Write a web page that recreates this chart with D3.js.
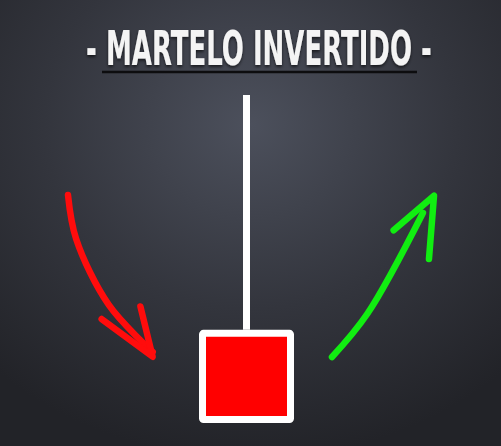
<!DOCTYPE html>
<html><head><meta charset="utf-8">
<script src="https://cdn.jsdelivr.net/npm/d3@7"></script>
<style>html,body{margin:0;padding:0;background:#2c2e33;overflow:hidden}</style>
</head><body>
<script>
// Data
const title = "- MARTELO INVERTIDO -";
const candle = [{high: 100, open: 0, close: 28.4, low: 0}]; // bearish inverted hammer (values in price units)
const downTrend = [[0, 100], [8, 72], [40, 30], [83, 0]];      // red arrow path (trend units)
const upTrend = [[0, 0], [35, 30], [90, 100]];                 // green arrow path (trend units)

const W = 501, H = 446;
const svg = d3.select("body").append("svg").attr("width", W).attr("height", H);
const defs = svg.append("defs");
const rg = defs.append("radialGradient").attr("id", "bg").attr("cx", "50%").attr("cy", "28%").attr("r", "75%");
rg.append("stop").attr("offset", "0%").attr("stop-color", "#4c505c");
rg.append("stop").attr("offset", "55%").attr("stop-color", "#33353d");
rg.append("stop").attr("offset", "100%").attr("stop-color", "#222328");
svg.append("rect").attr("width", W).attr("height", H).attr("fill", "url(#bg)");

const sh = defs.append("filter").attr("id", "ts").attr("x", "-10%").attr("y", "-30%").attr("width", "120%").attr("height", "160%");
sh.append("feDropShadow").attr("dx", 0).attr("dy", 2).attr("stdDeviation", 1.5).attr("flood-color", "#000").attr("flood-opacity", 0.6);

// Title
const tg = svg.append("g").attr("filter", "url(#ts)");
const tt = tg.append("text").attr("x", 0).attr("y", 0).attr("text-anchor", "middle")
  .attr("font-family", "'Liberation Sans Narrow','DejaVu Sans Condensed',sans-serif")
  .attr("font-weight", "bold").attr("font-size", 48).attr("fill", "#f4f4f4").text(title);
const natW = tt.node().getComputedTextLength();
tt.attr("transform", `translate(259,65) scale(${346 / natW},1)`);
svg.append("line").attr("x1", 102).attr("x2", 417).attr("y1", 72).attr("y2", 72)
  .attr("stroke", "#0d0d0f").attr("stroke-width", 2.5);

// Candle scales
const x = d3.scaleBand().domain([0]).range([199, 294]).padding(0);
const y = d3.scaleLinear().domain([0, 100]).range([423, 95]);
const c = candle[0];
const cx = x(0) + x.bandwidth() / 2;
svg.append("line").attr("x1", cx).attr("x2", cx).attr("y1", y(c.high)).attr("y2", y(c.close))
  .attr("stroke", "#ffffff").attr("stroke-width", 7);
svg.append("rect").attr("x", x(0) + 3.5).attr("y", y(c.close) + 3.5)
  .attr("width", x.bandwidth() - 7).attr("height", y(c.open) - y(c.close) - 7)
  .attr("fill", "#ff0000").attr("stroke", "#ffffff").attr("stroke-width", 7).attr("rx", 1);

// Arrows
function drawArrow(pts, sx, sy, color, head) {
  const line = d3.line().x(d => sx(d[0])).y(d => sy(d[1])).curve(d3.curveCatmullRom.alpha(0.5));
  svg.append("path").attr("d", line(pts)).attr("fill", "none").attr("stroke", color)
    .attr("stroke-width", 6.5).attr("stroke-linecap", "round");
  const hl = d3.line().x(d => sx(d[0])).y(d => sy(d[1]));
  svg.append("path").attr("d", hl(head)).attr("fill", "none").attr("stroke", color)
    .attr("stroke-width", 6.5).attr("stroke-linecap", "round").attr("stroke-linejoin", "round");
}
const rx = d3.scaleLinear().domain([0, 100]).range([68, 170]);
const ry = d3.scaleLinear().domain([0, 100]).range([352, 195]);
drawArrow(downTrend, rx, ry, "#ff0c0c", [[33, 21], [83, -3], [71, 29]]);

const gx = d3.scaleLinear().domain([0, 100]).range([332, 433]);
const gy = d3.scaleLinear().domain([0, 100]).range([357, 213]);
drawArrow(upTrend, gx, gy, "#11ee11", [[61, 88], [101, 112], [96, 68]]);
</script>
</body></html>
